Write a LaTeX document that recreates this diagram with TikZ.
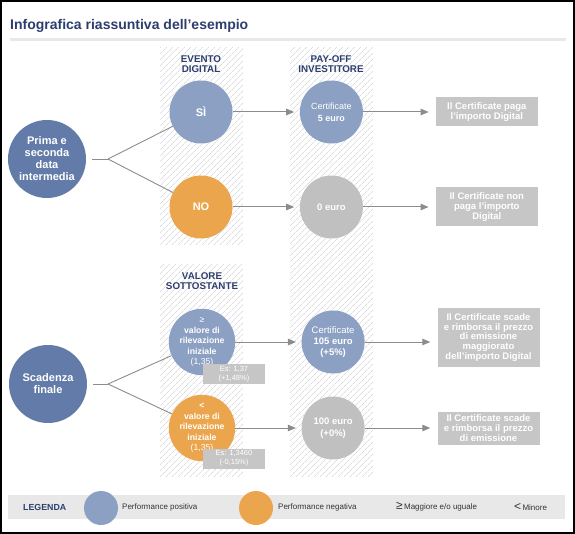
\documentclass[tikz,border=0pt]{standalone}
\usepackage{fontspec}
\setmainfont{Liberation Sans}
\usepackage{xcolor}
\usepackage{tikz}
\usetikzlibrary{arrows.meta,positioning,patterns.meta}
\definecolor{InfoNavy}{HTML}{2D3E6E}
\definecolor{InfoBlue}{HTML}{627BA8}
\definecolor{InfoLight}{HTML}{8BA0C3}
\definecolor{InfoOrange}{HTML}{EBA64D}
\definecolor{InfoGrey}{HTML}{C0C0C0}
\definecolor{InfoBox}{HTML}{C6C6C6}
\definecolor{InfoArrow}{HTML}{8C8C8C}
\definecolor{InfoHatch}{HTML}{DCDCDF}
\definecolor{InfoBar}{HTML}{E8E8E9}
\definecolor{InfoText}{HTML}{333333}
\tikzset{
  maincirc/.style={circle,fill=InfoBlue,text=white,align=center,minimum size=78pt,inner sep=0pt,font=\bfseries\fontsize{11}{12}\selectfont},
  evcirc/.style={circle,text=white,align=center,minimum size=63pt,inner sep=0pt},
  outbox/.style={fill=InfoBox,text=white,align=center,minimum width=102pt,inner sep=1pt,font=\bfseries\fontsize{9.5}{9.8}\selectfont},
  esbox/.style={fill=InfoBox,text=white,align=center,minimum width=62pt,minimum height=20pt,inner sep=1pt,font=\fontsize{7.5}{9}\selectfont},
  colhead/.style={text=InfoNavy,align=center,font=\bfseries\fontsize{9.8}{10}\selectfont},
  hatchcol/.style={pattern={Lines[angle=45,distance=4pt,line width=0.8pt]},pattern color=InfoHatch},
  flowarrow/.style={-{Triangle[length=8pt,width=6.5pt]},line width=1pt,draw=InfoArrow},
  structlink/.style={line width=0.9pt,draw=InfoArrow},
  legtext/.style={anchor=west,text=InfoText,inner sep=0pt,font=\fontsize{8}{9}\selectfont}
}
\begin{document}
\begin{tikzpicture}[x=1pt,y=-1pt,node distance=67pt and 67pt]
\useasboundingbox (0,0) rectangle (575,534);
\draw[line width=2pt] (1,1) rectangle (574,533);
% titolo
\node[anchor=base west,inner sep=0pt,text=InfoNavy,font=\bfseries\fontsize{14}{16}\selectfont] (title) at (10,30) {Infografica riassuntiva dell’esempio};
\fill[InfoBar] (10,38.5) rectangle (566,41.5);
% colonne tratteggiate
\fill[hatchcol] (160,48) rectangle (243,245);
\fill[hatchcol] (160,265) rectangle (243,476);
\fill[hatchcol] (290,48) rectangle (373,476);
\node[colhead] (evhead) at (201,64) {EVENTO\\DIGITAL};
\node[colhead] (payhead) at (331,64) {PAY-OFF\\INVESTITORE};
\node[colhead] (valhead) at (202,281) {VALORE\\SOTTOSTANTE};

% date intermedie
\node[maincirc] (inter) at (47,159) {Prima e\\seconda\\data\\intermedia};
\coordinate (br1) at (108,159);
\node[evcirc,fill=InfoLight,font=\bfseries\fontsize{11}{12}\selectfont] (si) at (201,112) {SÌ};
\node[evcirc,fill=InfoOrange,font=\bfseries\fontsize{11}{12}\selectfont] (no) at (201,207) {NO};
\node[evcirc,fill=InfoLight,right=of si,font=\fontsize{9}{12}\selectfont] (pay1) {Certificate\\\textbf{5 euro}};
\node[evcirc,fill=InfoGrey,right=of no,font=\bfseries\fontsize{9.5}{12}\selectfont] (pay2) {0 euro};
\node[outbox,right=72.5pt of pay1,minimum height=29pt] (box1) {Il Certificate paga\\l’importo Digital};
\node[outbox,right=72.5pt of pay2,minimum height=39pt] (box2) {Il Certificate non\\paga l’importo\\Digital};

% scadenza finale
\node[maincirc] (fine) at (48,384) {Scadenza\\finale};
\coordinate (br2) at (108,384);
\node[evcirc,fill=InfoLight,font=\fontsize{8.7}{10.5}\selectfont] (gt) at (202,342) {≥\\\textbf{valore di}\\\textbf{rilevazione}\\\textbf{iniziale}\\(1,35)};
\node[evcirc,fill=InfoOrange,font=\fontsize{8.7}{10.5}\selectfont] (lt) at (202,428) {\textbf{<}\\\textbf{valore di}\\\textbf{rilevazione}\\\textbf{iniziale}\\(1,35)};
\node[esbox] (es1) at (234,374) {Es: 1,37\\(+1,48\%)};
\node[esbox] (es2) at (234,458.5) {Es: 1,3460\\(-0,15\%)};
\node[evcirc,fill=InfoLight,right=66pt of gt,font=\fontsize{9.5}{11}\selectfont] (pay3) {Certificate\\\textbf{105 euro}\\\textbf{(+5\%)}};
\node[evcirc,fill=InfoGrey,right=66pt of lt,font=\bfseries\fontsize{9.5}{12}\selectfont] (pay4) {100 euro\\(+0\%)};
\node[outbox,right=72.5pt of pay3,yshift=4.5pt,minimum height=59pt] (box3) {Il Certificate scade\\e rimborsa il prezzo\\di emissione\\maggiorato\\dell’importo Digital};
\node[outbox,right=72.5pt of pay4,minimum height=33pt] (box4) {Il Certificate scade\\e rimborsa il prezzo\\di emissione};

% collegamenti
\draw[structlink,shorten <=6pt] (inter) -- (br1);
\draw[structlink] (br1) -- (si);
\draw[structlink] (br1) -- (no);
\draw[structlink,shorten <=6pt] (fine) -- (br2);
\draw[structlink] (br2) -- (gt);
\draw[structlink] (br2) -- (lt);
\draw[flowarrow,shorten >=5.5pt] (si) -- (pay1);
\draw[flowarrow,shorten >=5.5pt] (no) -- (pay2);
\draw[flowarrow,shorten >=5.5pt] (gt) -- (pay3);
\draw[flowarrow,shorten >=5.5pt] (lt) -- (pay4);
\draw[flowarrow,shorten >=7pt] (pay1) -- (box1);
\draw[flowarrow,shorten >=7pt] (pay2) -- (box2);
\draw[flowarrow,shorten >=7pt] (pay3.east) -- (pay3.east -| box3.west);
\draw[flowarrow,shorten >=7pt] (pay4) -- (box4);

% legenda
\fill[InfoBar] (8,495) rectangle (565,519);
\node[anchor=west,inner sep=0pt,text=InfoNavy,font=\bfseries\fontsize{8.8}{10}\selectfont] (leg) at (23,507) {LEGENDA};
\node[circle,fill=InfoLight,minimum size=34pt,inner sep=0pt] (legpos) at (101,508) {};
\node[legtext] (legpostext) at (122,507) {Performance positiva};
\node[circle,fill=InfoOrange,minimum size=34pt,inner sep=0pt] (legneg) at (256,508) {};
\node[legtext] (legnegtext) at (278,507) {Performance negativa};
\node[legtext] (legge) at (396,507) {{\fontsize{12}{12}\selectfont ≥}\,Maggiore e/o uguale};
\node[legtext] (leglt) at (514,507) {{\fontsize{12}{12}\selectfont <}\,Minore};
\end{tikzpicture}
\end{document}
